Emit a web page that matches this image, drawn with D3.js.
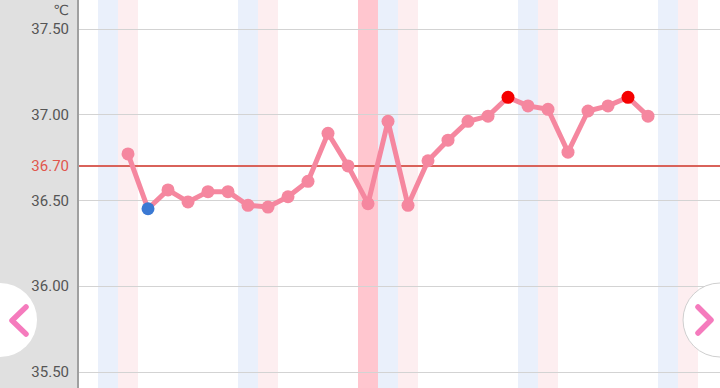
<!DOCTYPE html>
<html><head><meta charset="utf-8">
<script src="https://cdn.jsdelivr.net/npm/d3@7"></script>
<style>html,body{margin:0;padding:0;background:#fff;overflow:hidden}svg{display:block}</style>
</head><body><svg id="c" width="720" height="388"></svg>
<script>
// ---- data ----
const days = [2,3,4,5,6,7,8,9,10,11,12,13,14,15,16,17,18,19,20,21,22,23,24,25,26,27,28];
const temps = [36.77,36.45,36.56,36.49,36.55,36.55,36.47,36.46,36.52,36.61,36.89,36.70,36.48,36.96,36.47,36.73,36.85,36.96,36.99,37.10,37.05,37.03,36.78,37.02,37.05,37.10,36.99];
const lowDays = [3];
const highDays = [21,27];
const blueDays = [1,8,15,22,29];
const pinkDays = [2,9,16,23,30];
const periodDays = [14];
const tickValues = [35.5,36.0,36.5,37.0,37.5];
const coverline = 36.70;
const unitLabel = "℃";

// ---- layout ----
const W = 720, H = 388, left = 78;
const svg = d3.select("#c");
const x = d3.scaleLinear().domain([0, 32]).range([88, 728]);
const y = d3.scaleLinear().domain([35.5, 37.5]).range([371.7, 28.7]);
const colW = x(1) - x(0);

// plot background
svg.append("rect").attr("x", left).attr("y", 0).attr("width", W - left).attr("height", H).attr("fill", "#fff");

// stripes
const stripes = [
  ...blueDays.map(d => ({d, c: "#eaf0fb"})),
  ...pinkDays.map(d => ({d, c: "#fdeef0"})),
  ...periodDays.map(d => ({d, c: "#ffc6cf"}))
];
svg.append("g").selectAll("rect").data(stripes).join("rect")
  .attr("x", s => x(s.d) - colW / 2).attr("y", 0)
  .attr("width", colW).attr("height", H).attr("fill", s => s.c);

// grid
svg.append("g").selectAll("line").data(tickValues).join("line")
  .attr("x1", left).attr("x2", W)
  .attr("y1", d => Math.round(y(d)) + 0.5).attr("y2", d => Math.round(y(d)) + 0.5)
  .attr("stroke", "#d3d3d3").attr("stroke-width", 1);

// coverline
svg.append("line").attr("x1", left).attr("x2", W)
  .attr("y1", y(coverline)).attr("y2", y(coverline))
  .attr("stroke", "#d9625a").attr("stroke-width", 2);

// left panel
svg.append("rect").attr("x", 0).attr("y", 0).attr("width", left).attr("height", H).attr("fill", "#e0e0e0");
svg.append("line").attr("x1", left).attr("x2", left).attr("y1", 0).attr("y2", H)
  .attr("stroke", "#a0a0a0").attr("stroke-width", 2);

// axis labels
const axis = d3.axisLeft(y).tickValues(tickValues).tickFormat(d3.format(".2f")).tickSize(0).tickPadding(9);
const ag = svg.append("g").attr("transform", `translate(${left},0)`).call(axis);
ag.select(".domain").remove();
ag.selectAll("text").attr("font-family", "Roboto, sans-serif").attr("font-size", 15).attr("fill", "#555");

svg.append("text").attr("x", 69).attr("y", y(coverline)).attr("dy", "0.35em")
  .attr("text-anchor", "end").attr("font-family", "Roboto, sans-serif").attr("font-size", 15)
  .attr("fill", "#e0564c").text(d3.format(".2f")(coverline));

svg.append("text").attr("x", 69).attr("y", 15).attr("text-anchor", "end")
  .attr("font-family", "Roboto, 'DejaVu Sans', sans-serif").attr("font-size", 14)
  .attr("fill", "#555").text(unitLabel);

// series
const pts = days.map((d, i) => ({d, v: temps[i]}));
const line = d3.line().x(p => x(p.d)).y(p => y(p.v));
svg.append("path").datum(pts).attr("d", line).attr("fill", "none")
  .attr("stroke", "#f5879f").attr("stroke-width", 5)
  .attr("stroke-linejoin", "round").attr("stroke-linecap", "round");

svg.append("g").selectAll("circle").data(pts).join("circle")
  .attr("cx", p => x(p.d)).attr("cy", p => y(p.v)).attr("r", 6.5)
  .attr("fill", p => lowDays.includes(p.d) ? "#3b79d3" : highDays.includes(p.d) ? "#f50000" : "#f5879f");

// nav buttons
const navY = 320, navR = 37;
svg.append("circle").attr("cx", 0).attr("cy", navY).attr("r", navR).attr("fill", "#fff");
svg.append("path").attr("d", `M26,307 L12,320.5 L26,334`).attr("fill", "none")
  .attr("stroke", "#f57bbd").attr("stroke-width", 5.5).attr("stroke-linecap", "round").attr("stroke-linejoin", "round");
svg.append("circle").attr("cx", W).attr("cy", navY).attr("r", navR).attr("fill", "#fff")
  .attr("stroke", "#cfcfcf").attr("stroke-width", 1);
svg.append("path").attr("d", `M698,307 L711,320 L698,333`).attr("fill", "none")
  .attr("stroke", "#f57bbd").attr("stroke-width", 5.5).attr("stroke-linecap", "round").attr("stroke-linejoin", "round");
</script></body></html>
